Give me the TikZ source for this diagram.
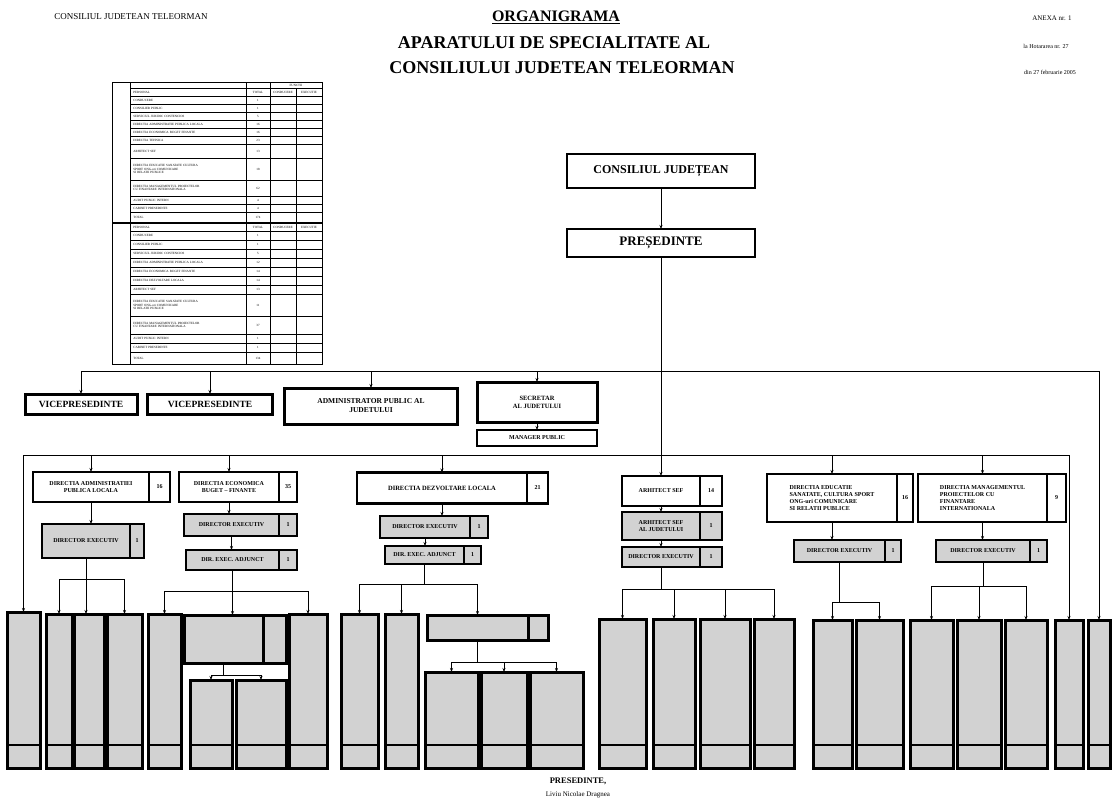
\documentclass[tikz,border=0pt]{standalone}
\usepackage{fontspec}
\setmainfont{Liberation Serif}
\usetikzlibrary{positioning,arrows.meta}

\tikzset{
  box/.style={draw, line width=2.5pt, fill=white, inner sep=1pt, outer sep=0pt,
    align=center, font=\bfseries\fontsize{6}{7}\selectfont},
  greybox/.style={box, fill=gray!35},
  tallbox/.style={draw, line width=3pt, fill=gray!35, inner sep=0pt, outer sep=0pt, anchor=north},
  tabtxt/.style={font=\fontsize{3.2}{3.6}\selectfont, inner sep=0pt},
}

\begin{document}
\begin{tikzpicture}[x=1pt, y=-1pt, line width=0.8pt, >={Stealth[length=4pt,width=3pt]}]
\useasboundingbox (0,0) rectangle (1112,804);

% antet
\node[font=\fontsize{9}{10}\selectfont] (cjt) at (131,17) {CONSILIUL JUDETEAN TELEORMAN};
\node[font=\bfseries\fontsize{16}{18}\selectfont] (titlu1) at (556,17) {\underline{ORGANIGRAMA}};
\node[font=\bfseries\fontsize{18}{20}\selectfont] (titlu2) at (554,43) {APARATULUI DE SPECIALITATE AL};
\node[font=\bfseries\fontsize{18}{20}\selectfont] (titlu3) at (562,68) {CONSILIULUI JUDETEAN TELEORMAN};
\node[font=\fontsize{7}{8}\selectfont] (anexa) at (1052,18) {ANEXA nr. 1};
\node[font=\fontsize{6}{7}\selectfont] (hot) at (1046,46) {la Hotararea nr. 27};
\node[font=\fontsize{6}{7}\selectfont] (data) at (1050,72) {din 27 februarie 2005};

% tabel cu posturi
\draw[line width=0.8pt] (112,82) rectangle (322,364);
\draw[line width=1.2pt] (112,223) -- (322,223);
\draw[line width=0.6pt] (130,82) -- (130,364);
\draw[line width=0.6pt] (246,82) -- (246,364);
\draw[line width=0.6pt] (270,82) -- (270,364);
\draw[line width=0.6pt] (296,88) -- (296,364);
\foreach \y in {88,96,104,112,120,128,136,144,158,180,196,204,212,231,240,249,258,267,276,285,294,316,334,343,352}
  \draw[line width=0.6pt] (130,\y) -- (322,\y);
\node[tabtxt] (functii) at (296,85) {FUNCTII};
\foreach \y [count=\i] in {92,227} {
  \node[tabtxt, anchor=west] (hpers\i) at (133,\y) {PERSONAL};
  \node[tabtxt] (htot\i) at (258,\y) {TOTAL};
  \node[tabtxt] (hcond\i) at (283,\y) {CONDUCERE};
  \node[tabtxt] (hexec\i) at (309,\y) {EXECUTIE};
}
\foreach \t/\n/\y [count=\i] in {CONDUCERE/1/100, CONSILIER PUBLIC/1/108,
    SERVICIUL JURIDIC CONTENCIOS/5/116, DIRECTIA ADMINISTRATIE PUBLICA LOCALA/16/124,
    DIRECTIA ECONOMICA BUGET FINANTE/16/132, DIRECTIA TEHNICA/23/140, ARHITECT SEF/13/151,
    {DIRECTIA EDUCATIE SANATATE CULTURA\\SPORT ONG-uri COMUNICARE\\SI RELATII PUBLICE}/18/169,
    {DIRECTIA MANAGEMENTUL PROIECTELOR\\CU FINANTARE INTERNATIONALA}/62/188,
    AUDIT PUBLIC INTERN/4/200, CABINET PRESEDINTE/4/208, TOTAL/174/217.5} {
  \node[tabtxt, anchor=west, text width=110pt, align=left] (ta\i) at (133,\y) {\t};
  \node[tabtxt] (na\i) at (258,\y) {\n};
}
\foreach \t/\n/\y [count=\i] in {CONDUCERE/1/235.5, CONSILIER PUBLIC/1/244.5,
    SERVICIUL JURIDIC CONTENCIOS/5/253.5, DIRECTIA ADMINISTRATIE PUBLICA LOCALA/12/262.5,
    DIRECTIA ECONOMICA BUGET FINANTE/14/271.5, DIRECTIA DEZVOLTARE LOCALA/14/280.5,
    ARHITECT SEF/13/289.5,
    {DIRECTIA EDUCATIE SANATATE CULTURA\\SPORT ONG-uri COMUNICARE\\SI RELATII PUBLICE}/11/305,
    {DIRECTIA MANAGEMENTUL PROIECTELOR\\CU FINANTARE INTERNATIONALA}/37/325,
    AUDIT PUBLIC INTERN/1/338.5, CABINET PRESEDINTE/1/347.5, TOTAL/134/358} {
  \node[tabtxt, anchor=west, text width=110pt, align=left] (tb\i) at (133,\y) {\t};
  \node[tabtxt] (nb\i) at (258,\y) {\n};
}

% conducere
\node[box, line width=2.5pt, font=\bfseries\fontsize{12}{14}\selectfont, minimum width=188pt, minimum height=34pt] (cj) at (661,171) {CONSILIUL JUDEȚEAN};
\node[box, line width=2.5pt, font=\bfseries\fontsize{13}{15}\selectfont, minimum width=188pt, minimum height=28pt] (pres) at (661,243) {PREȘEDINTE};
\draw[->] (cj) -- (pres);

\coordinate (l1) at (0,371);
\coordinate (l2) at (0,455);

\node[box, line width=3pt, font=\bfseries\fontsize{9.5}{11}\selectfont, minimum width=112pt, minimum height=20pt] (vp1) at (81,404) {VICEPRESEDINTE};
\node[box, line width=3pt, font=\bfseries\fontsize{9.5}{11}\selectfont, minimum width=125pt, minimum height=20pt] (vp2) at (210,404) {VICEPRESEDINTE};
\node[box, line width=3pt, font=\bfseries\fontsize{7.5}{9}\selectfont, minimum width=173pt, minimum height=36pt] (adm) at (371,406) {ADMINISTRATOR PUBLIC AL\\JUDETULUI};
\node[box, line width=3pt, font=\bfseries\fontsize{6.5}{8}\selectfont, minimum width=120pt, minimum height=40pt] (sec) at (537,402) {SECRETAR\\AL JUDETULUI};
\node[box, font=\bfseries\fontsize{6}{7}\selectfont, minimum width=120pt, minimum height=16pt] (mgr) at (537,438) {MANAGER PUBLIC};
\draw[->] (sec) -- (mgr);

% directii
\node[box, minimum width=116pt, minimum height=30pt] (dir1) at (91,487) {DIRECTIA ADMINISTRATIEI\\PUBLICA LOCALA};
\node[box, minimum width=21pt, minimum height=30pt, right=0pt of dir1] (dir1n) {16};
\node[box, minimum width=100pt, minimum height=30pt] (dir2) at (229,487) {DIRECTIA ECONOMICA\\BUGET -- FINANTE};
\node[box, minimum width=18pt, minimum height=30pt, right=0pt of dir2] (dir2n) {35};
\node[box, font=\bfseries\fontsize{6.5}{7.5}\selectfont, minimum width=170pt, minimum height=31pt] (dir3) at (442,488) {DIRECTIA DEZVOLTARE LOCALA};
\node[box, minimum width=21pt, minimum height=31pt, right=0pt of dir3] (dir3n) {21};
\node[box, minimum width=78pt, minimum height=30pt] (dir4) at (661,491) {ARHITECT SEF};
\node[box, minimum width=22pt, minimum height=30pt, right=0pt of dir4] (dir4n) {14};
\node[box, align=left, minimum width=130pt, minimum height=48pt] (dir5) at (832,498) {DIRECTIA EDUCATIE\\SANATATE, CULTURA SPORT\\ONG-uri COMUNICARE\\SI RELATII PUBLICE};
\node[box, minimum width=16pt, minimum height=48pt, right=0pt of dir5] (dir5n) {16};
\node[box, align=left, minimum width=129pt, minimum height=48pt] (dir6) at (982.5,498) {DIRECTIA MANAGEMENTUL\\PROIECTELOR CU\\FINANTARE\\INTERNATIONALA};
\node[box, minimum width=19pt, minimum height=48pt, right=0pt of dir6] (dir6n) {9};

% directori executivi
\node[greybox, minimum width=88pt, minimum height=34pt] (ex1) at (86,541) {DIRECTOR EXECUTIV};
\node[greybox, minimum width=14pt, minimum height=34pt, right=0pt of ex1] (ex1n) {1};
\node[greybox, minimum width=95pt, minimum height=22pt] (ex2) at (231.5,525) {DIRECTOR EXECUTIV};
\node[greybox, minimum width=18pt, minimum height=22pt, right=0pt of ex2] (ex2n) {1};
\node[greybox, minimum width=93pt, minimum height=20pt] (ex2b) at (232.5,560) {DIR. EXEC. ADJUNCT};
\node[greybox, minimum width=18pt, minimum height=20pt, right=0pt of ex2b] (ex2bn) {1};
\node[greybox, minimum width=90pt, minimum height=22pt] (ex3) at (425,527) {DIRECTOR EXECUTIV};
\node[greybox, minimum width=18pt, minimum height=22pt, right=0pt of ex3] (ex3n) {1};
\node[greybox, minimum width=79pt, minimum height=18pt] (ex3b) at (424.5,555) {DIR. EXEC. ADJUNCT};
\node[greybox, minimum width=17pt, minimum height=18pt, right=0pt of ex3b] (ex3bn) {1};
\node[greybox, minimum width=78pt, minimum height=28pt] (ex4a) at (661,526) {ARHITECT SEF\\AL JUDETULUI};
\node[greybox, minimum width=22pt, minimum height=28pt, right=0pt of ex4a] (ex4an) {1};
\node[greybox, minimum width=78pt, minimum height=20pt] (ex4b) at (661,557) {DIRECTOR EXECUTIV};
\node[greybox, minimum width=22pt, minimum height=20pt, right=0pt of ex4b] (ex4bn) {1};
\node[greybox, minimum width=91pt, minimum height=22pt] (ex5) at (839.5,551) {DIRECTOR EXECUTIV};
\node[greybox, minimum width=16pt, minimum height=22pt, right=0pt of ex5] (ex5n) {1};
\node[greybox, minimum width=94pt, minimum height=22pt] (ex6) at (983,551) {DIRECTOR EXECUTIV};
\node[greybox, minimum width=17pt, minimum height=22pt, right=0pt of ex6] (ex6n) {1};

% servicii si compartimente
\foreach \n/\xa/\xb/\t in {sa1/7/40/612, sa2/46/72/614, sa3/74/104/614, sa4/107/142/614,
    sb1/148/181/614, sb3/289/327/614, sb2a/190/232/680, sb2b/236/286/680,
    sc1/341/378/614, sc2/385/418/614, sc3a/425/478/672, sc3b/481/527/672, sc3c/530/583/672,
    sd1/599/646/619, sd2/653/695/619, sd3/700/750/619, sd4/754/794/619,
    se1/813/852/620, se2/856/903/620, sf1/910/953/620, sf2/957/1001/620, sf3/1005/1047/620,
    sg1/1055/1083/620, sg2/1088/1110/620} {
  \pgfmathsetmacro\w{\xb-\xa}
  \pgfmathsetmacro\h{768-\t}
  \node[tallbox, minimum width=\w pt, minimum height=\h pt] (\n) at ({(\xa+\xb)/2},\t) {};
  \draw[line width=1.5pt] ([yshift=23pt]\n.south west) -- ([yshift=23pt]\n.south east);
}
\node[greybox, line width=3pt, minimum width=79pt, minimum height=48pt] (sb2) at (223.5,639) {};
\node[greybox, line width=3pt, minimum width=23pt, minimum height=48pt, right=0pt of sb2] (sb2n) {};
\node[greybox, line width=3pt, minimum width=101pt, minimum height=25pt] (sc3) at (477.5,627.5) {};
\node[greybox, line width=3pt, minimum width=20pt, minimum height=25pt, right=0pt of sc3] (sc3n) {};

% linii de subordonare
\draw[->] (pres.south) -- (dir4.north);
\draw (l1 -| vp1) -- (l1 -| sg2);
\foreach \n in {vp1,vp2,adm,sec}
  \draw[->] (l1 -| \n) -- (\n.north);
\draw[->] (l1 -| sg2) -- (sg2.north);
\draw (l2 -| sa1) -- (l2 -| sg1);
\foreach \n in {sa1,dir1,dir2,dir3,dir5,dir6,sg1}
  \draw[->] (l2 -| \n) -- (\n.north);

\draw[->] (dir1.south) -- (dir1.south |- ex1.north);
\draw[->] (dir2.south) -- (dir2.south |- ex2.north);
\draw[->] (ex2.south) -- (ex2.south |- ex2b.north);
\draw[->] (dir3.south) -- (dir3.south |- ex3.north);
\draw[->] (ex3.south) -- (ex3.south |- ex3b.north);
\draw[->] (dir4.south) -- (ex4a.north);
\draw[->] (ex4a.south) -- (ex4b.north);
\draw[->] (dir5.south) -- (dir5.south |- ex5.north);
\draw[->] (dir6.south) -- (dir6.south |- ex6.north);

\coordinate (ya) at (0,579);
\coordinate (yb) at (0,591);
\coordinate (ybb) at (0,675);
\coordinate (yc) at (0,584);
\coordinate (ycc) at (0,662);
\coordinate (yd) at (0,589);
\coordinate (ye) at (0,602);
\coordinate (yf) at (0,586);

\draw[->] (ex1.south) -- (ex1.south |- sa3.north);
\draw[->] (ya -| ex1.south) -| (sa2.north);
\draw[->] (ya -| ex1.south) -| (sa4.north);

\draw[->] (ex2b.south) -- (ex2b.south |- sb2.north);
\draw[->] (yb -| ex2b.south) -| (sb1.north);
\draw[->] (yb -| ex2b.south) -| (sb3.north);
\draw (sb2.south) -- (ybb -| sb2.south);
\draw[->] (ybb -| sb2.south) -| (sb2a.north);
\draw[->] (ybb -| sb2.south) -| (sb2b.north);

\draw (ex3b.south) -- (yc -| ex3b.south);
\draw[->] (yc -| ex3b.south) -| (sc1.north);
\draw[->] (yc -| ex3b.south) -| (sc2.north);
\draw[->] (yc -| ex3b.south) -| (sc3.north);
\draw (sc3.south) -- (ycc -| sc3.south);
\draw[->] (ycc -| sc3.south) -| (sc3a.north);
\draw[->] (ycc -| sc3.south) -| (sc3b.north);
\draw[->] (ycc -| sc3.south) -| (sc3c.north);

\draw (ex4b.south) -- (yd -| ex4b.south);
\foreach \n in {sd1,sd2,sd3,sd4}
  \draw[->] (yd -| ex4b.south) -| (\n.north);

\draw (ex5.south) -- (ye -| ex5.south);
\draw[->] (ye -| ex5.south) -| (se1.north);
\draw[->] (ye -| ex5.south) -| (se2.north);

\draw (ex6.south) -- (yf -| ex6.south);
\foreach \n in {sf1,sf2,sf3}
  \draw[->] (yf -| ex6.south) -| (\n.north);

% semnatura
\node[font=\bfseries\fontsize{8.5}{10}\selectfont] (semn) at (578,781) {PRESEDINTE,};
\node[font=\fontsize{7}{8}\selectfont, below=0pt of semn] (nume) {Liviu Nicolae Dragnea};
\end{tikzpicture}
\end{document}
